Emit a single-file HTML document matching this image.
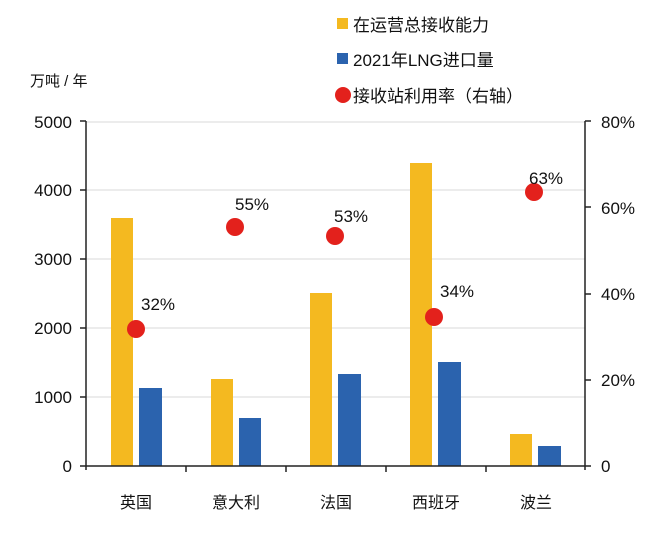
<!DOCTYPE html><html><head><meta charset="utf-8"><style>body{margin:0;background:#fff}svg{display:block}text{font-family:"Liberation Sans","Noto Sans CJK SC",sans-serif;fill:#111}</style></head><body>
<svg width="665" height="534" xmlns="http://www.w3.org/2000/svg">
<g stroke="#e6e6e6" stroke-width="1.5">
<line x1="86" y1="122" x2="585" y2="122"/><line x1="86" y1="190" x2="585" y2="190"/><line x1="86" y1="259" x2="585" y2="259"/><line x1="86" y1="328" x2="585" y2="328"/><line x1="86" y1="397" x2="585" y2="397"/></g>
<g fill="#f4b920"><rect x="111" y="218" width="22" height="248"/><rect x="211" y="379" width="22" height="87"/><rect x="310" y="293" width="22" height="173"/><rect x="410" y="163" width="22" height="303"/><rect x="510" y="434" width="22" height="32"/></g>
<g fill="#2b63ae"><rect x="139" y="388" width="23" height="78"/><rect x="239" y="418" width="22" height="48"/><rect x="338" y="374" width="23" height="92"/><rect x="438" y="362" width="23" height="104"/><rect x="538" y="446" width="23" height="20"/></g>
<g stroke="#222" stroke-width="1.5" fill="none">
<line x1="86" y1="121" x2="86" y2="470"/><line x1="585" y1="121" x2="585" y2="470"/><line x1="80" y1="466" x2="591" y2="466"/>
<line x1="80" y1="121" x2="86" y2="121"/><line x1="80" y1="190" x2="86" y2="190"/><line x1="80" y1="259" x2="86" y2="259"/><line x1="80" y1="328" x2="86" y2="328"/><line x1="80" y1="397" x2="86" y2="397"/>
<line x1="585" y1="121" x2="591" y2="121"/><line x1="585" y1="207" x2="591" y2="207"/><line x1="585" y1="294" x2="591" y2="294"/><line x1="585" y1="380" x2="591" y2="380"/>
<line x1="186" y1="466" x2="186" y2="472"/><line x1="286" y1="466" x2="286" y2="472"/><line x1="386" y1="466" x2="386" y2="472"/><line x1="486" y1="466" x2="486" y2="472"/></g>
<g font-size="17" text-anchor="end"><text x="72" y="128">5000</text><text x="72" y="196">4000</text><text x="72" y="265">3000</text><text x="72" y="334">2000</text><text x="72" y="403">1000</text><text x="72" y="472">0</text></g>
<g font-size="17"><text x="601" y="128">80%</text><text x="601" y="214">60%</text><text x="601" y="300">40%</text><text x="601" y="386">20%</text><text x="601" y="472">0</text></g>
<g font-size="16" text-anchor="middle"><text x="136" y="508">英国</text><text x="236" y="508">意大利</text><text x="336" y="508">法国</text><text x="436" y="508">西班牙</text><text x="536" y="508">波兰</text></g>
<g fill="#e3211c"><circle cx="136" cy="329" r="9"/><circle cx="235" cy="227" r="9"/><circle cx="335" cy="236" r="9"/><circle cx="434" cy="317" r="9"/><circle cx="534" cy="192" r="9"/></g>
<g font-size="17"><text x="141" y="310">32%</text><text x="235" y="210">55%</text><text x="334" y="222">53%</text><text x="440" y="297">34%</text><text x="529" y="184">63%</text></g>
<text x="30" y="86" font-size="15">万吨 / 年</text>
<rect x="337" y="18" width="11" height="11" fill="#f4b920"/><text x="353" y="31" font-size="17">在运营总接收能力</text>
<rect x="337" y="53" width="11" height="11" fill="#2b63ae"/><text x="353" y="66" font-size="17">2021年LNG进口量</text>
<circle cx="343" cy="95" r="8" fill="#e3211c"/><text x="353" y="102" font-size="17">接收站利用率（右轴）</text>
</svg></body></html>
